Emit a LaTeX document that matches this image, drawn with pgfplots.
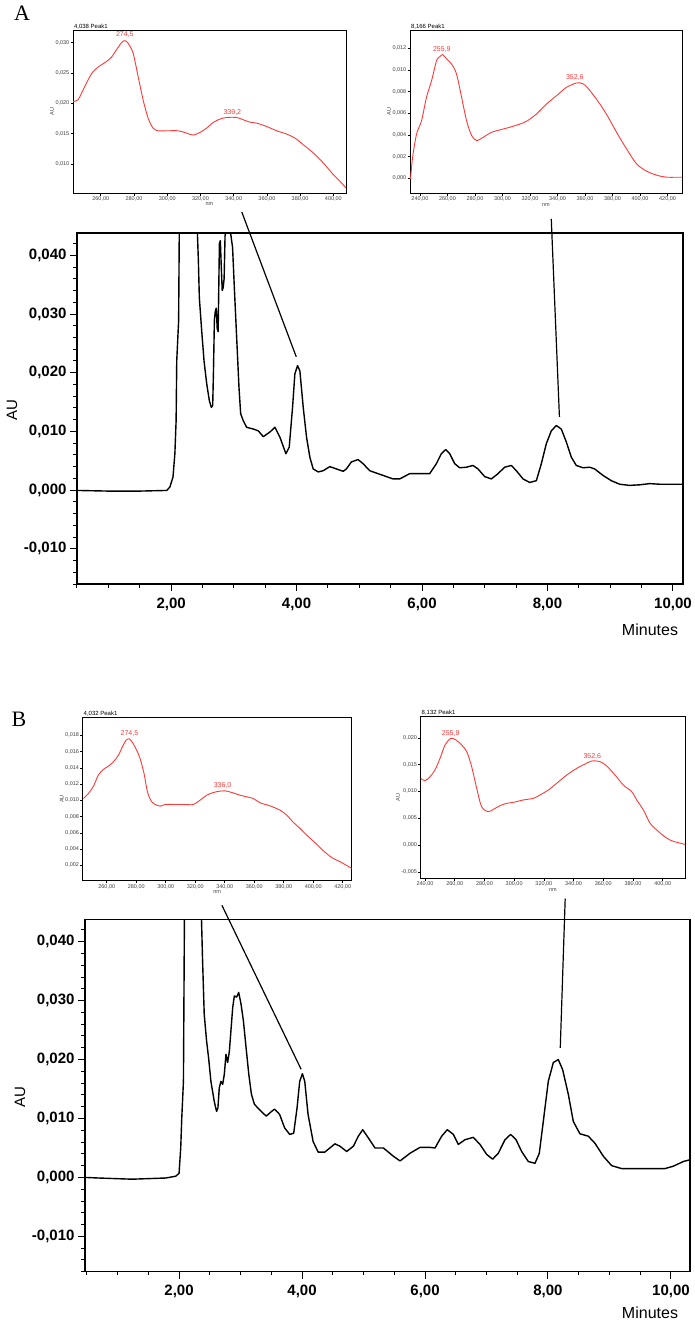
\documentclass[border=0pt]{standalone}
\usepackage{pgfplots}
\pgfplotsset{compat=1.18}
\usepackage{fontspec}
\setmainfont{Liberation Sans}
\newfontfamily\serifA{Liberation Serif}
\definecolor{specred}{HTML}{FF3838}

\pgfplotsset{
  mainax/.style={scale only axis,anchor=south west,clip mode=individual,
    axis line style={line width=1.3pt},tick style={line width=1pt,black},
    tick align=outside,xtick pos=bottom,ytick pos=left,
    major tick length=7pt,minor tick length=3.5pt,
    ticklabel style={font=\fontsize{15}{15}\selectfont\bfseries},
    xticklabel style={yshift=-3pt},
    scaled ticks=false,ymin=-0.016,ymax=0.0438,
    ytick={-0.01,0,0.01,0.02,0.03,0.04},
    yticklabels={{-0,010},{0,000},{0,010},{0,020},{0,030},{0,040}},
    minor ytick={-0.016,-0.014,-0.012,-0.008,-0.006,-0.004,-0.002,0.002,0.004,0.006,0.008,0.012,0.014,0.016,0.018,0.022,0.024,0.026,0.028,0.032,0.034,0.036,0.038,0.042},
    xtick={2,4,6,8,10},xticklabels={{2,00},{4,00},{6,00},{8,00},{10,00}},
    minor xtick={0.5,1,1.5,2.5,3,3.5,4.5,5,5.5,6.5,7,7.5,8.5,9,9.5},
    cycle list={{black}},
    every axis plot/.append style={line width=1.4pt,line join=round}},
  inset/.style={scale only axis,anchor=south west,clip mode=individual,
    axis line style={line width=0.9pt},tick style={line width=0.5pt,black},
    tick align=outside,xtick pos=bottom,ytick pos=left,
    major tick length=2.5pt,scaled ticks=false,
    ticklabel style={font=\fontsize{5.5}{6}\selectfont,text=black!75,inner sep=1pt},
    label style={font=\fontsize{5.5}{6}\selectfont,text=black!75},
    xlabel={nm},ylabel={AU},
    xlabel style={yshift=3pt},ylabel style={yshift=-3pt},
    cycle list={{specred}},
    every axis plot/.append style={line width=0.9pt,smooth}}
}
\tikzset{
  peaklab/.style={font=\fontsize{7}{7}\selectfont,text=specred,anchor=south,inner sep=1.5pt},
  ttl/.style={font=\fontsize{6}{6}\selectfont,anchor=south west,inner sep=0.8pt}
}

\begin{document}
\begin{tikzpicture}
\path[use as bounding box] (0pt,0pt) rectangle (694pt,-1322pt);

% ---------- panel A ----------
\node[font=\serifA\fontsize{22}{22}\selectfont] at (22pt,-13pt) {A};

\begin{axis}[inset,at={(73pt,-193pt)},width=273pt,height=163pt,
  xmin=243.3,xmax=407.6,ymin=0.00523,ymax=0.03208,
  xtick={260,280,300,320,340,360,380,400},
  xticklabels={{260,00},{280,00},{300,00},{320,00},{340,00},{360,00},{380,00},{400,00}},
  ytick={0.010,0.015,0.020,0.025,0.030},
  yticklabels={{0,010},{0,015},{0,020},{0,025},{0,030}}]
\addplot coordinates {(243.3,0.02030) (246.3,0.02057) (249.4,0.02222) (252.4,0.02386) (255.4,0.02523) (259.4,0.02616) (263.4,0.02688) (266.4,0.02759) (269.4,0.02879) (272.5,0.03000) (274.5,0.03033) (276.5,0.02989) (279.5,0.02825) (282.5,0.02441) (285.5,0.02057) (288.5,0.01756) (291.5,0.01592) (294.5,0.01548) (299.6,0.01548) (306.6,0.01548) (311.6,0.01510) (315.6,0.01477) (319.7,0.01521) (323.7,0.01592) (327.7,0.01685) (331.7,0.01740) (335.7,0.01767) (341.8,0.01767) (345.8,0.01729) (349.8,0.01690) (353.8,0.01674) (359.8,0.01619) (365.9,0.01548) (371.9,0.01493) (376.9,0.01427) (381.9,0.01318) (388.0,0.01181) (394.0,0.01016) (400.0,0.00825) (404.0,0.00715) (407.6,0.00606)};
\node[peaklab] at (axis cs:274.5,0.0305) {274,5};
\node[peaklab] at (axis cs:339.2,0.0178) {339,2};
\node[ttl] at (rel axis cs:0,1) {4,038 Peak1};
\end{axis}

\begin{axis}[inset,at={(410pt,-193.3pt)},width=272pt,height=163pt,
  xmin=232.8,xmax=430.5,ymin=-0.0014,ymax=0.01367,
  xtick={240,260,280,300,320,340,360,380,400,420},
  xticklabels={{240,00},{260,00},{280,00},{300,00},{320,00},{340,00},{360,00},{380,00},{400,00},{420,00}},
  ytick={0,0.002,0.004,0.006,0.008,0.010,0.012},
  yticklabels={{0,000},{0,002},{0,004},{0,006},{0,008},{0,010},{0,012}}]
\addplot coordinates {(233.2,-0.00006) (234.7,0.00194) (237.6,0.00409) (241.2,0.00532) (244.8,0.00748) (248.5,0.00902) (252.1,0.01086) (254.5,0.01123) (256.5,0.01142) (259.4,0.01102) (263.0,0.01055) (266.6,0.00963) (270.3,0.00748) (273.9,0.00532) (277.6,0.00394) (281.2,0.00348) (286.0,0.00378) (292.1,0.00425) (298.1,0.00446) (305.4,0.00471) (311.5,0.00495) (317.5,0.00526) (324.8,0.00594) (332.1,0.00686) (339.3,0.00763) (346.6,0.00840) (353.9,0.00880) (358.7,0.00871) (363.6,0.00809) (370.8,0.00686) (376.9,0.00563) (382.9,0.00425) (390.2,0.00271) (397.5,0.00132) (404.7,0.00065) (412.0,0.00028) (419.3,0.00009) (430.2,0.00009)};
\node[peaklab] at (axis cs:255.9,0.0115) {255,9};
\node[peaklab] at (axis cs:352.6,0.0089) {352,6};
\node[ttl] at (rel axis cs:0,1) {8,166 Peak1};
\end{axis}

\begin{axis}[mainax,at={(77pt,-584pt)},width=606pt,height=351pt,xmin=0.5,xmax=10.16]
\addplot coordinates {(0.5,-0.00006) (1.0,-0.00017) (1.5,-0.00017) (1.93,-0.00006) (1.98,0.00051) (2.03,0.00221) (2.06,0.00618) (2.08,0.01184) (2.09,0.02204) (2.12,0.02884) (2.13,0.0436) (2.15,0.07) (2.39,0.07) (2.42,0.0436) (2.435,0.0390) (2.45,0.0328) (2.488,0.0271) (2.525,0.0220) (2.568,0.0181) (2.61,0.0152) (2.642,0.0141) (2.663,0.0144) (2.675,0.0200) (2.690,0.0290) (2.705,0.0305) (2.720,0.0310) (2.735,0.0275) (2.750,0.0270) (2.770,0.0420) (2.785,0.0425) (2.800,0.0380) (2.815,0.0340) (2.830,0.0345) (2.845,0.0360) (2.860,0.0433) (2.875,0.0445) (2.94,0.0445) (2.98,0.0413) (3.008,0.0345) (3.045,0.0260) (3.082,0.0175) (3.109,0.0130) (3.151,0.0118) (3.204,0.0107) (3.310,0.0104) (3.390,0.0101) (3.469,0.0091) (3.576,0.0099) (3.655,0.0107) (3.735,0.0090) (3.830,0.0062) (3.883,0.0073) (3.936,0.0141) (3.973,0.0198) (4.016,0.0212) (4.053,0.0203) (4.106,0.0141) (4.159,0.0090) (4.212,0.0056) (4.265,0.0036) (4.345,0.0031) (4.424,0.0033) (4.530,0.0040) (4.637,0.0036) (4.743,0.0032) (4.794,0.0036) (4.874,0.0048) (4.980,0.0052) (5.060,0.0045) (5.166,0.0033) (5.325,0.0027) (5.432,0.0023) (5.538,0.0019) (5.644,0.0019) (5.803,0.0028) (5.963,0.0028) (6.122,0.0028) (6.228,0.0045) (6.308,0.0062) (6.377,0.0069) (6.441,0.0062) (6.521,0.0045) (6.600,0.0038) (6.707,0.0039) (6.813,0.0042) (6.892,0.0036) (6.999,0.0023) (7.105,0.0019) (7.211,0.0028) (7.317,0.0039) (7.424,0.0042) (7.503,0.0033) (7.610,0.0019) (7.716,0.0013) (7.822,0.0016) (7.902,0.0045) (7.981,0.0079) (8.061,0.0101) (8.141,0.0110) (8.220,0.0104) (8.300,0.0082) (8.380,0.0056) (8.459,0.0042) (8.566,0.0038) (8.672,0.0039) (8.752,0.0036) (8.885,0.0025) (9.017,0.0016) (9.150,0.0010) (9.309,0.0008) (9.469,0.0009) (9.628,0.0011) (9.788,0.0010) (10.0,0.0010) (10.16,0.0010)};
\coordinate (a1s) at (axis cs:3.127,0.04736);
\coordinate (a1e) at (axis cs:3.995,0.02271);
\coordinate (a2s) at (axis cs:8.06,0.0462);
\coordinate (a2e) at (axis cs:8.19,0.01249);
\end{axis}
\draw[line width=1.2pt] (a1s) -- (a1e);
\draw[line width=1.2pt] (a2s) -- (a2e);
\node[rotate=90,font=\fontsize{15}{15}\selectfont] at (12pt,-410pt) {AU};
\node[font=\fontsize{16}{16}\selectfont] at (650pt,-630pt) {Minutes};

% ---------- panel B ----------
\node[font=\serifA\fontsize{22}{22}\selectfont] at (19pt,-719pt) {B};

\begin{axis}[inset,at={(82.7pt,-880.7pt)},width=269pt,height=163.4pt,
  xmin=243.7,xmax=426.1,ymin=0.00012,ymax=0.0202,
  xtick={260,280,300,320,340,360,380,400,420},
  xticklabels={{260,00},{280,00},{300,00},{320,00},{340,00},{360,00},{380,00},{400,00},{420,00}},
  ytick={0.002,0.004,0.006,0.008,0.010,0.012,0.014,0.016,0.018},
  yticklabels={{0,002},{0,004},{0,006},{0,008},{0,010},{0,012},{0,014},{0,016},{0,018}}]
\addplot coordinates {(244.2,0.01022) (247.6,0.01084) (251.0,0.01174) (254.3,0.01309) (257.7,0.01379) (261.1,0.01419) (264.5,0.01473) (267.9,0.01554) (270.8,0.01665) (273.1,0.01739) (275.4,0.01755) (277.6,0.01706) (280.3,0.01616) (282.6,0.01514) (285.3,0.01329) (287.6,0.01104) (290.5,0.00982) (293.9,0.00941) (296.2,0.00928) (299.6,0.00949) (305.2,0.00949) (312.0,0.00949) (318.8,0.00949) (323.3,0.01002) (327.8,0.01063) (332.3,0.01096) (336.8,0.01113) (340.2,0.01117) (344.8,0.01096) (350.4,0.01063) (354.9,0.01043) (359.4,0.01022) (364.0,0.00969) (370.7,0.00932) (377.5,0.00879) (382.0,0.00818) (386.6,0.00728) (391.1,0.00654) (395.6,0.00572) (401.3,0.00478) (406.9,0.00380) (412.5,0.00298) (418.2,0.00245) (422.7,0.00200) (426.1,0.00163)};
\node[peaklab] at (axis cs:275.4,0.0177) {274,5};
\node[peaklab] at (axis cs:338.5,0.0113) {336,0};
\node[ttl] at (rel axis cs:0,1) {4,032 Peak1};
\end{axis}

\begin{axis}[inset,at={(420.7pt,-878.3pt)},width=264.3pt,height=161.6pt,
  xmin=237.1,xmax=415.0,ymin=-0.00622,ymax=0.02394,
  xtick={240,260,280,300,320,340,360,380,400},
  xticklabels={{240,00},{260,00},{280,00},{300,00},{320,00},{340,00},{360,00},{380,00},{400,00}},
  ytick={-0.005,0,0.005,0.010,0.015,0.020},
  yticklabels={{-0,005},{0,000},{0,005},{0,010},{0,015},{0,020}}]
\addplot coordinates {(237.1,0.01244) (240.0,0.01200) (243.4,0.01275) (246.7,0.01399) (250.1,0.01617) (253.5,0.01866) (257.3,0.01990) (260.9,0.01959) (264.7,0.01866) (268.1,0.01741) (271.4,0.01461) (274.8,0.01057) (278.1,0.00715) (282.6,0.00622) (286.0,0.00665) (290.5,0.00734) (295.0,0.00777) (299.5,0.00796) (306.2,0.00840) (312.9,0.00871) (317.4,0.00933) (323.0,0.01026) (328.6,0.01151) (335.4,0.01306) (342.1,0.01430) (347.7,0.01511) (352.2,0.01567) (357.8,0.01555) (362.3,0.01474) (367.9,0.01306) (373.5,0.01119) (379.1,0.00995) (382.5,0.00840) (387.0,0.00653) (391.5,0.00404) (396.0,0.00280) (400.4,0.00174) (404.9,0.00093) (409.4,0.00050) (415.0,0.00012)};
\node[peaklab] at (axis cs:257.3,0.0200) {255,9};
\node[peaklab] at (axis cs:352.6,0.0157) {352,6};
\node[ttl] at (rel axis cs:0,1) {8,132 Peak1};
\end{axis}

\begin{axis}[mainax,at={(85pt,-1271.7pt)},width=605pt,height=352.4pt,xmin=0.47,xmax=10.31]
\addplot coordinates {(0.47,0) (0.692,-0.0001) (1.237,-0.0003) (1.782,-0.0001) (1.945,0.0002) (2.0,0.0007) (2.027,0.0050) (2.044,0.0101) (2.071,0.0163) (2.087,0.0437) (2.095,0.07) (2.355,0.07) (2.365,0.0437) (2.381,0.0373) (2.409,0.0277) (2.447,0.0232) (2.480,0.0203) (2.518,0.0163) (2.572,0.0129) (2.610,0.0112) (2.632,0.0118) (2.654,0.0152) (2.681,0.0163) (2.709,0.0158) (2.736,0.0175) (2.763,0.0209) (2.790,0.0195) (2.818,0.0214) (2.872,0.0288) (2.899,0.0308) (2.937,0.0306) (2.970,0.0314) (3.008,0.0294) (3.046,0.0266) (3.090,0.0220) (3.134,0.0175) (3.177,0.0141) (3.226,0.0124) (3.308,0.0115) (3.417,0.0104) (3.482,0.0110) (3.553,0.0116) (3.635,0.0107) (3.717,0.0084) (3.799,0.0073) (3.864,0.0075) (3.919,0.0118) (3.962,0.0163) (4.006,0.0176) (4.044,0.0163) (4.098,0.0107) (4.180,0.0061) (4.262,0.0043) (4.371,0.0043) (4.453,0.0050) (4.534,0.0057) (4.616,0.0053) (4.726,0.0044) (4.835,0.0053) (4.916,0.0070) (4.987,0.0081) (5.079,0.0067) (5.187,0.0050) (5.323,0.0050) (5.485,0.0036) (5.594,0.0028) (5.756,0.0041) (5.919,0.0051) (6.081,0.0051) (6.163,0.0050) (6.271,0.0070) (6.363,0.0081) (6.461,0.0073) (6.542,0.0056) (6.650,0.0064) (6.786,0.0068) (6.894,0.0056) (7.003,0.0039) (7.100,0.0031) (7.192,0.0041) (7.301,0.0064) (7.393,0.0073) (7.480,0.0064) (7.572,0.0044) (7.680,0.0027) (7.789,0.0024) (7.859,0.0041) (7.924,0.0095) (8.005,0.0163) (8.087,0.0195) (8.168,0.0200) (8.238,0.0183) (8.331,0.0141) (8.412,0.0095) (8.520,0.0074) (8.656,0.0070) (8.764,0.0058) (8.900,0.0036) (9.035,0.0020) (9.198,0.0015) (9.496,0.0015) (9.902,0.0015) (10.038,0.0019) (10.201,0.0027) (10.309,0.0030)};
\coordinate (b1s) at (axis cs:2.697,0.04617);
\coordinate (b1e) at (axis cs:3.985,0.01835);
\coordinate (b2s) at (axis cs:8.28,0.0473);
\coordinate (b2e) at (axis cs:8.20,0.0220);
\end{axis}
\draw[line width=1.2pt] (b1s) -- (b1e);
\draw[line width=1.2pt] (b2s) -- (b2e);
\node[rotate=90,font=\fontsize{15}{15}\selectfont] at (20pt,-1097pt) {AU};
\node[font=\fontsize{16}{16}\selectfont] at (650pt,-1313pt) {Minutes};
\end{tikzpicture}
\end{document}
